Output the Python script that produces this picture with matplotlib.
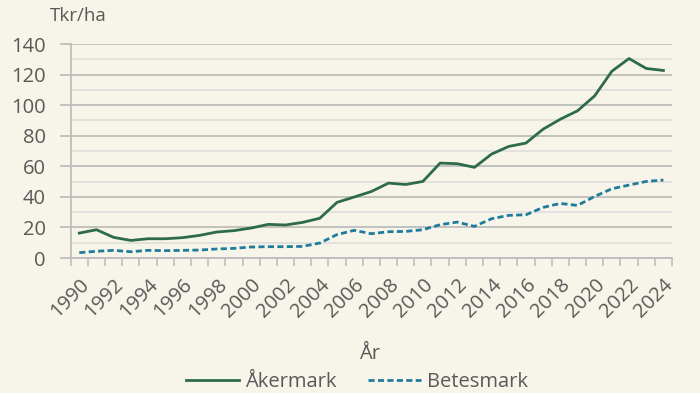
import numpy as np
import matplotlib.pyplot as plt
from matplotlib.ticker import MultipleLocator

plt.rcParams['font.family'] = ['Open Sans', 'DejaVu Sans']

years = list(range(1990, 2025))
akermark = [16.3, 18.5, 13.5, 11.5, 12.6, 12.6, 13.3, 14.8, 17.0, 17.9,
            19.6, 22.0, 21.6, 23.3, 26.0, 36.4, 39.9, 43.5, 49.0, 48.1,
            50.1, 62.1, 61.7, 59.3, 68.0, 73.0, 75.2, 84.3, 90.8, 96.3,
            106.1, 122.2, 130.5, 124.0, 122.7]
betesmark = [3.5, 4.4, 5.0, 4.1, 5.0, 4.8, 5.0, 5.2, 5.9, 6.3,
             7.2, 7.4, 7.4, 7.6, 9.8, 15.3, 18.1, 15.9, 17.2, 17.4,
             18.5, 21.8, 23.5, 20.7, 25.7, 27.9, 28.3, 33.1, 35.7, 34.4,
             40.3, 45.3, 47.7, 50.1, 51.0]

bg = '#f7f5e9'
txt = '#595959'
grid_major = '#bdbdbd'
grid_minor = '#dcdcdc'

fig = plt.figure(figsize=(7, 3.93), dpi=100, facecolor=bg)
ax = fig.add_axes([0.101, 0.3435, 0.859, 0.5445], facecolor=bg)

x = np.arange(len(years))
ax.plot(x, akermark, color='#2e6b4b', lw=2, label='Åkermark', zorder=3)
ax.plot(x, betesmark, color='#1f7b9c', lw=2, ls=(0, (2.2, 1.2)), label='Betesmark', zorder=3)

ax.set_ylim(0, 140)
ax.set_xlim(-0.5, len(years) - 0.5)
ax.yaxis.set_major_locator(MultipleLocator(20))
ax.yaxis.set_minor_locator(MultipleLocator(10))
ax.grid(axis='y', which='major', color=grid_major, lw=1.3, zorder=0)
ax.grid(axis='y', which='minor', color=grid_minor, lw=1.1, zorder=0)

# category ticks between years, labels on every other year
ax.set_xticks(np.arange(-0.5, len(years), 1.0))
ax.set_xticklabels([])
ax.tick_params(axis='x', which='major', length=6, color=grid_major, width=1.2)
ax.set_xticks(x[::2], minor=True)
ax.set_xticklabels([str(y) for y in years[::2]], minor=True, rotation=45,
                   ha='right', rotation_mode='anchor', fontsize=14.5, color=txt)
ax.tick_params(axis='x', which='minor', length=0, pad=12)

ax.tick_params(axis='y', which='major', length=8, color=grid_major, width=1.3,
               labelsize=14.5, labelcolor=txt, pad=10)
ax.tick_params(axis='y', which='minor', length=0)

for s in ['top', 'right']:
    ax.spines[s].set_visible(False)
for s in ['left', 'bottom']:
    ax.spines[s].set_color(grid_major)
    ax.spines[s].set_linewidth(1.3)

fig.text(0.071, 0.96, 'Tkr/ha', fontsize=13.5, color=txt, ha='left', va='center')
fig.text(0.528, 0.10, 'År', fontsize=14.5, color=txt, ha='center', va='center')

fig.legend(loc='center', bbox_to_anchor=(0.51, 0.028), ncol=2, frameon=False,
           fontsize=14.5, labelcolor=txt, handlelength=2.6, columnspacing=1.6,
           handletextpad=0.3)

fig.savefig('out.png', dpi=100, facecolor=bg)
